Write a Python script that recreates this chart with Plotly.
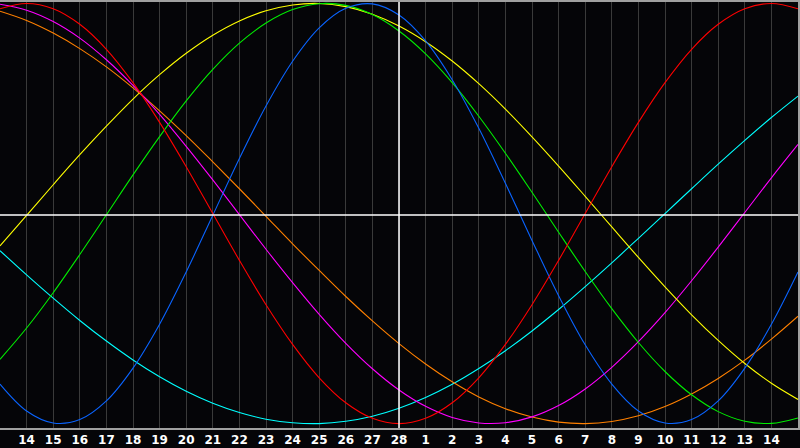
import plotly.graph_objects as go

# day index 0..30 (grid lines at 1..29)
days = list(range(31))
tick_days = list(range(1, 30))
tick_labels = ["14", "15", "16", "17", "18", "19", "20", "21", "22", "23", "24", "25", "26", "27", "28",
               "1", "2", "3", "4", "5", "6", "7", "8", "9", "10", "11", "12", "13", "14"]

# values at each day line, scale -100..100
red = [97.5, 100, 97.5, 90.1, 78.2, 62.3, 43.4, 22.3, 0, -22.3, -43.4, -62.3, -78.2, -90.1, -97.5, -100,
       -97.5, -90.1, -78.2, -62.3, -43.4, -22.3, 0, 22.3, 43.4, 62.3, 78.2, 90.1, 97.5, 100, 97.5]
blue = [-81.2, -94.0, -99.7, -98.1, -89.2, -73.6, -52.7, -27.8, -0.8, 26.2, 51.2, 72.5, 88.4, 97.7, 99.8, 94.5,
        82.2, 63.7, 40.6, 14.4, -12.8, -39.1, -62.5, -81.2, -94.0, -99.7, -98.1, -89.2, -73.6, -52.7, -27.8]
green = [-69.4, -54.5, -37.7, -19.5, -0.6, 18.4, 36.6, 53.6, 68.6, 81.1, 90.7, 97.1, 99.9, 99.1, 94.7, 86.9,
         76.0, 62.3, 46.3, 28.7, 10.1, -8.9, -27.6, -45.3, -61.4, -75.2, -86.3, -94.3, -98.9, -99.9, -97.3]
yellow = [-15.4, -0.9, 13.7, 28.0, 41.6, 54.5, 66.1, 76.3, 84.9, 91.7, 96.5, 99.3, 100.0, 98.5, 94.9, 89.3,
          81.8, 72.6, 61.8, 49.7, 36.5, 22.6, 8.2, -6.4, -20.9, -34.9, -48.2, -60.4, -71.4, -80.8, -88.5]
cyan = [-17.7, -29.2, -40.3, -50.9, -60.7, -69.7, -77.7, -84.6, -90.3, -94.7, -97.9, -99.6, -100.0, -98.9, -96.5, -92.7,
        -87.6, -81.3, -73.8, -65.3, -55.9, -45.7, -34.8, -23.5, -11.8, 0.0, 11.8, 23.5, 34.8, 45.7, 55.9]
magenta = [99.6, 96.8, 91.4, 83.5, 73.2, 61.0, 47.2, 32.0, 16.0, -0.5, -17.0, -32.9, -48.0, -61.8, -73.9, -84.0,
           -91.8, -97.1, -99.7, -99.6, -96.8, -91.4, -83.5, -73.2, -61.0, -47.2, -32.0, -16.0, 0.5, 17.0, 32.9]
orange = [96.3, 91.9, 85.9, 78.5, 69.8, 59.8, 48.9, 37.1, 24.6, 11.8, -1.3, -14.4, -27.1, -39.5, -51.1, -61.9,
          -71.6, -80.1, -87.3, -92.9, -96.9, -99.3, -100.0, -99.0, -96.3, -91.9, -85.9, -78.5, -69.8, -59.8, -48.9]

series = [
    ("cyan", cyan, "#00ffff"),
    ("orange", orange, "#ff8000"),
    ("magenta", magenta, "#ff00ff"),
    ("yellow", yellow, "#ffff00"),
    ("green", green, "#00ee00"),
    ("blue", blue, "#0a64ff"),
    ("red", red, "#ff0000"),
]

fig = go.Figure()
for name, vals, col in series:
    fig.add_trace(go.Scatter(x=days, y=vals, mode="lines", name=name,
                             line=dict(color=col, width=1.1, shape="spline", smoothing=1.0),
                             hoverinfo="skip"))

# centre cross-hair
fig.add_shape(type="line", xref="x", yref="y", x0=15, x1=15, y0=-102.1, y1=100.7,
              line=dict(color="white", width=1.5), layer="above")
fig.add_shape(type="line", xref="x", yref="y", x0=0, x1=30, y0=-0.7, y1=-0.7,
              line=dict(color="white", width=1.5), layer="above")

fig.update_layout(
    width=800, height=448,
    margin=dict(l=0, r=0, t=0, b=20, pad=0),
    paper_bgcolor="#050508",
    plot_bgcolor="#050508",
    showlegend=False,
    xaxis=dict(range=[0, 30], tickmode="array", tickvals=tick_days,
               ticktext=["<b>%s</b>" % t for t in tick_labels],
               showgrid=True, gridcolor="#3a3a3a", gridwidth=1,
               zeroline=False, showline=True, linecolor="#a0a0a0", linewidth=1.5, mirror=True,
               ticks="", tickfont=dict(family="DejaVu Sans", size=12, color="white"),
               fixedrange=True),
    yaxis=dict(range=[-102.1, 100.7], showgrid=False, zeroline=False, showticklabels=False,
               showline=True, linecolor="#a0a0a0", linewidth=1.5, mirror=True, ticks="",
               fixedrange=True),
)

fig.write_html("out.html", config={"displayModeBar": False},
               post_script="document.body.style.margin='0px';document.body.style.background='#050508';")
